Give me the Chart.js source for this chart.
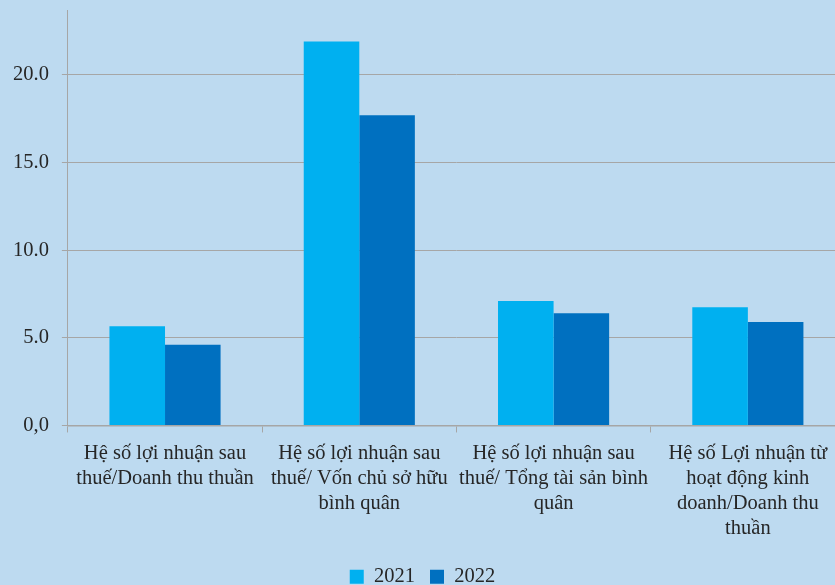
<!DOCTYPE html>
<html lang="vi">
<head>
	<meta charset="UTF-8">
	<title>Hệ số lợi nhuận 2021 - 2022</title>
	<style>
		html, body { margin: 0; padding: 0; overflow: hidden; background: #bddaf0; }
		#wrap { width: 845px; height: 585px; position: relative; }
	</style>
</head>
<body>
	<div id="wrap">
		<canvas id="myChart"></canvas>
	</div>

	<script src="https://cdn.jsdelivr.net/npm/chart.js"></script>
	<script>
		// Data
		const categories = [
			['Hệ số lợi nhuận sau', 'thuế/Doanh thu thuần'],
			['Hệ số lợi nhuận sau', 'thuế/ Vốn chủ sở hữu', 'bình quân'],
			['Hệ số lợi nhuận sau', 'thuế/ Tổng tài sản bình', 'quân'],
			['Hệ số Lợi nhuận từ', 'hoạt động kinh', 'doanh/Doanh thu', 'thuần']
		];
		const values2021 = [5.66, 21.9, 7.1, 6.75];
		const values2022 = [4.6, 17.7, 6.4, 5.9];
		const yTicks = [0, 5, 10, 15, 20];

		const font = { family: "'Liberation Serif', 'Times New Roman', serif", size: 20.5 };
		const ctx = document.getElementById('myChart');

		new Chart(ctx, {
			type: 'bar',
			data: {
				labels: categories,
				datasets: [{
					label: '2021',
					data: values2021,
					backgroundColor: '#00b0f0'
				}, {
					label: '2022',
					data: values2022,
					backgroundColor: '#0070c0'
				}]
			},
			options: {
				responsive: true,
				maintainAspectRatio: false,
				animation: false,
				layout: { padding: { left: 0, top: 10, right: 0, bottom: -12 } },
				datasets: {
					bar: { barPercentage: 1, categoryPercentage: 0.572 }
				},
				plugins: {
					tooltip: { enabled: false },
					legend: {
						position: 'bottom',
						labels: {
							font,
							color: '#262626',
							boxWidth: 14,
							boxHeight: 14,
							padding: 15
						}
					}
				},
				scales: {
					x: {
						afterFit: axis => { axis.height += 1; },
						grid: {
							offset: true,
							drawOnChartArea: false,
							color: '#a6a6a6',
							tickLength: 7
						},
						border: { color: '#a6a6a6', width: 1.5 },
						ticks: {
							font: { ...font, lineHeight: 1.22 },
							color: '#262626',
							maxRotation: 0,
							autoSkip: false,
							padding: 9
						}
					},
					y: {
						min: 0,
						max: 23.7,
						afterBuildTicks: axis => { axis.ticks = yTicks.map(v => ({ value: v })); },
						afterFit: axis => { axis.paddingTop = 0; },
						grid: { color: '#a6a6a6', tickLength: 6 },
						border: { color: '#a6a6a6' },
						ticks: {
							font,
							color: '#262626',
							padding: 13,
							callback: v => v === 0 ? '0,0' : v.toFixed(1)
						}
					}
				}
			}
		});
	</script>
</body>
</html>
